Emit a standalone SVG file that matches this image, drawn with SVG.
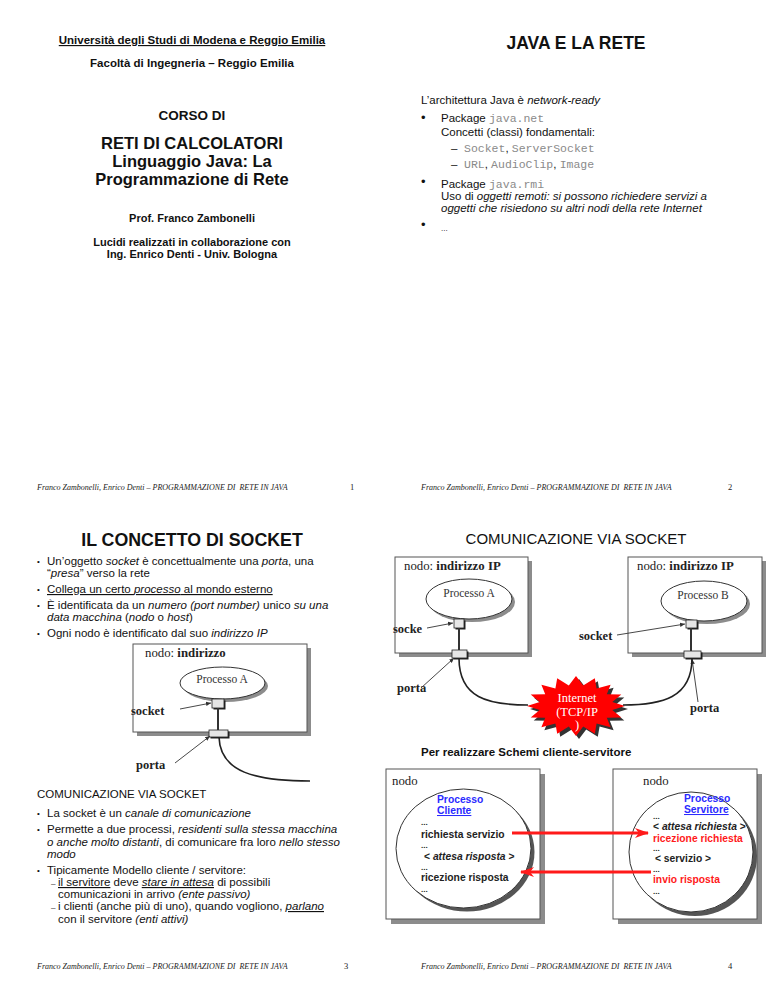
<svg xmlns="http://www.w3.org/2000/svg" width="768" height="994" viewBox="0 0 768 994">
<style>
text{fill:#111}
.s{font-family:"Liberation Sans",Arial,sans-serif}
.sb{font-family:"Liberation Sans",Arial,sans-serif;font-weight:bold}
.r{font-family:"Liberation Serif","Times New Roman",serif}
.m{font-family:"Liberation Mono","Courier New",monospace;fill:#8a8a8a}
.i{font-style:italic}
.b{font-weight:bold}
.u{text-decoration:underline}
.foot{font-family:"Liberation Serif","Times New Roman",serif;font-style:italic;font-size:8px;white-space:pre;fill:#222}
.pg{font-family:"Liberation Serif","Times New Roman",serif;font-size:8.5px;fill:#222}
.box{fill:#fff;stroke:#555;stroke-width:1}
.shd{fill:#8c8c8c}
.ell{fill:#fff;stroke:#333;stroke-width:1}
.sq{fill:#e6e6e6;stroke:#222;stroke-width:0.8}
.stem{stroke:#333;stroke-width:2;fill:none}
.ptr{stroke:#333;stroke-width:0.9;fill:none;marker-end:url(#ah)}
.wire{stroke:#222;stroke-width:1.6;fill:none}
.lbl{font-family:"Liberation Serif","Times New Roman",serif;font-weight:bold;font-size:12.5px;fill:#222}
.nd{font-family:"Liberation Serif","Times New Roman",serif;font-size:12.8px;fill:#222}
.pr{font-family:"Liberation Serif","Times New Roman",serif;font-size:11.5px;fill:#333}
.t4{font-family:"Liberation Sans",Arial,sans-serif;font-weight:bold;font-size:10.3px;fill:#222}
.dots{font-family:"Liberation Sans",Arial,sans-serif;font-weight:bold;font-size:8px;fill:#222}
.blue{fill:#2a2aff}
.arr{stroke:#ff1a1a;stroke-width:3;fill:none}
</style>
<defs>
<marker id="ah" markerWidth="6" markerHeight="6" refX="5" refY="3" orient="auto" markerUnits="userSpaceOnUse">
<path d="M0,0.8 L5,3 L0,5.2 z" fill="#333"/>
</marker>
<marker id="rah" markerWidth="14" markerHeight="10" refX="13" refY="5" orient="auto" markerUnits="userSpaceOnUse">
<path d="M0,0 L14,5 L0,10 L4,5 z" fill="#ff1a1a"/>
</marker>
<polygon id="star" points="625,706 612.3,710.1 621.3,717.5 606.8,717.7 610.6,727.2 596.6,723.5 594.8,733.7 583.2,726.6 576,736 568.8,726.6 557.2,733.7 555.4,723.5 541.4,727.2 545.2,717.7 530.7,717.5 539.7,710.1 527,706 539.7,701.9 530.7,694.5 545.2,694.3 541.4,684.8 555.4,688.5 557.2,678.3 568.8,685.4 576,676 583.2,685.4 594.8,678.3 596.6,688.5 610.6,684.8 606.8,694.3 621.3,694.5 612.3,701.9"/>
</defs>
<rect width="768" height="994" fill="#fff"/>

<!-- Slide 1 -->
<g id="slide1">
<text class="sb u" x="192" y="44" font-size="11.5" text-anchor="middle">Università degli Studi di Modena e Reggio Emilia</text>
<text class="sb" x="192" y="67" font-size="11.5" text-anchor="middle">Facoltà di Ingegneria – Reggio Emilia</text>
<text class="sb" x="192" y="120" font-size="13.5" text-anchor="middle">CORSO DI</text>
<text class="sb" x="192" y="149" font-size="16.5" text-anchor="middle">RETI DI CALCOLATORI</text>
<text class="sb" x="192" y="167" font-size="16.5" text-anchor="middle">Linguaggio Java: La</text>
<text class="sb" x="192" y="185" font-size="16.5" text-anchor="middle">Programmazione di Rete</text>
<text class="sb" x="192" y="222" font-size="11" text-anchor="middle">Prof. Franco Zambonelli</text>
<text class="sb" x="192" y="246" font-size="11" text-anchor="middle">Lucidi realizzati in collaborazione con</text>
<text class="sb" x="192" y="258" font-size="11" text-anchor="middle">Ing. Enrico Denti - Univ. Bologna</text>
<text class="foot" x="37" y="490">Franco Zambonelli, Enrico Denti – PROGRAMMAZIONE DI  RETE IN JAVA</text>
<text class="pg" x="350" y="490">1</text>
</g>

<!-- Slide 2 -->
<g id="slide2">
<text class="sb" x="576" y="49" font-size="17.5" text-anchor="middle">JAVA E LA RETE</text>
<text class="s" x="421" y="104" font-size="11.5">L’architettura Java è <tspan class="i">network-ready</tspan></text>
<text class="s" x="421" y="122" font-size="13">•</text>
<text class="s" x="441" y="122" font-size="11.5">Package <tspan class="m">java.net</tspan></text>
<text class="s" x="441" y="136" font-size="11.5">Concetti (classi) fondamentali:</text>
<text class="s" x="451" y="152" font-size="11.5" fill="#333">–</text>
<text class="s" x="464" y="152" font-size="11.5"><tspan class="m">Socket</tspan>, <tspan class="m">ServerSocket</tspan></text>
<text class="s" x="451" y="168" font-size="11.5" fill="#333">–</text>
<text class="s" x="464" y="168" font-size="11.5"><tspan class="m">URL</tspan>, <tspan class="m">AudioClip</tspan>, <tspan class="m">Image</tspan></text>
<text class="s" x="421" y="186" font-size="13">•</text>
<text class="s" x="441" y="188" font-size="11.5">Package <tspan class="m">java.rmi</tspan></text>
<text class="s" x="441" y="200" font-size="11.5">Uso di <tspan class="i">oggetti remoti: si possono richiedere servizi a</tspan></text>
<text class="s i" x="441" y="212" font-size="11.5">oggetti che risiedono su altri nodi della rete Internet</text>
<text class="s" x="421" y="229" font-size="13">•</text>
<text class="s" x="441" y="231" font-size="8">...</text>
<text class="foot" x="421" y="490">Franco Zambonelli, Enrico Denti – PROGRAMMAZIONE DI  RETE IN JAVA</text>
<text class="pg" x="728" y="490">2</text>
</g>

<!-- Slide 3 -->
<g id="slide3">
<text class="sb" x="192" y="546" font-size="17.8" text-anchor="middle">IL CONCETTO DI SOCKET</text>
<g class="s" font-size="11.5">
<text x="37" y="564" font-size="8">•</text>
<text x="47" y="565">Un’oggetto <tspan class="i">socket</tspan> è concettualmente una <tspan class="i">porta</tspan>, una</text>
<text x="47" y="577">“<tspan class="i">presa</tspan>” verso la rete</text>
<text x="37" y="592" font-size="8">•</text>
<text x="47" y="593" class="u">Collega un certo <tspan class="i">processo</tspan> al mondo esterno</text>
<text x="37" y="608" font-size="8">•</text>
<text x="47" y="609">È identificata da un <tspan class="i">numero (port number)</tspan> unico <tspan class="i">su una</tspan></text>
<text x="47" y="621"><tspan class="i">data macchina</tspan> (<tspan class="i">nodo</tspan> o <tspan class="i">host</tspan>)</text>
<text x="37" y="636" font-size="8">•</text>
<text x="47" y="637">Ogni nodo è identificato dal suo <tspan class="i">indirizzo IP</tspan></text>
</g>
<g class="s" font-size="11.5">
<text x="37" y="798">COMUNICAZIONE VIA SOCKET</text>
<text x="37" y="816" font-size="8">•</text>
<text x="47" y="817">La socket è un <tspan class="i">canale di comunicazione</tspan></text>
<text x="37" y="832" font-size="8">•</text>
<text x="47" y="833">Permette a due processi, <tspan class="i">residenti sulla stessa macchina</tspan></text>
<text x="47" y="846"><tspan class="i">o anche molto distanti</tspan>, di comunicare fra loro <tspan class="i">nello stesso</tspan></text>
<text x="47" y="858" class="i">modo</text>
<text x="37" y="873" font-size="8">•</text>
<text x="47" y="874">Tipicamente Modello cliente / servitore:</text>
<text x="51" y="886" font-size="8">–</text>
<text x="58" y="886"><tspan class="u">il servitore</tspan> deve <tspan class="i u">stare in attesa</tspan> di possibili</text>
<text x="58" y="898">comunicazioni in arrivo <tspan class="i">(ente passivo)</tspan></text>
<text x="51" y="910" font-size="8">–</text>
<text x="58" y="910">i clienti (anche più di uno), quando vogliono, <tspan class="i u">parlano</tspan></text>
<text x="58" y="923">con il servitore <tspan class="i">(enti attivi)</tspan></text>
</g>
<text class="foot" x="37" y="969">Franco Zambonelli, Enrico Denti – PROGRAMMAZIONE DI  RETE IN JAVA</text>
<text class="pg" x="344" y="969">3</text>
</g>

<g id="node-s3">
<rect class="shd" x="137" y="648" width="174" height="88"/>
<rect class="box" x="133" y="644" width="174" height="88"/>
<text class="nd" x="145" y="657">nodo: <tspan font-weight="bold">indirizzo</tspan></text>
<ellipse class="shd" cx="225.5" cy="686" rx="42.5" ry="16"/>
<ellipse class="ell" cx="222.5" cy="683" rx="42.5" ry="16"/>
<text class="pr" x="222" y="683" text-anchor="middle">Processo A</text>
<rect x="213.5" y="700.5" width="12" height="9" fill="#222"/>
<rect class="sq" x="212" y="699" width="12" height="9"/>
<rect x="210.5" y="731.5" width="19" height="7" fill="#222"/>
<rect class="sq" x="209" y="730" width="19" height="7"/>
<text class="lbl" x="131" y="715">socket</text>
<text class="lbl" x="136" y="769">porta</text>
</g>

<!-- Slide 4 -->
<g id="slide4">
<text class="s" x="576" y="544" font-size="15" text-anchor="middle">COMUNICAZIONE VIA SOCKET</text>
<text class="sb" x="421" y="756" font-size="11.5">Per realizzare Schemi cliente-servitore</text>
<text class="foot" x="421" y="969">Franco Zambonelli, Enrico Denti – PROGRAMMAZIONE DI  RETE IN JAVA</text>
<text class="pg" x="728" y="969">4</text>
</g>

<g id="node-A">
<rect class="shd" x="399" y="561" width="133" height="96"/>
<rect class="box" x="395" y="557" width="133" height="96"/>
<text class="nd" x="404" y="570">nodo: <tspan font-weight="bold">indirizzo IP</tspan></text>
<ellipse class="shd" cx="472" cy="602" rx="43" ry="20"/>
<ellipse class="ell" cx="469" cy="599" rx="43" ry="20"/>
<text class="pr" x="469" y="597" text-anchor="middle">Processo A</text>
<rect x="455.5" y="620.5" width="10" height="9" fill="#222"/>
<rect class="sq" x="454" y="619" width="10" height="9"/>
<rect x="453.5" y="651.5" width="15" height="8" fill="#222"/>
<rect class="sq" x="452" y="650" width="15" height="8"/>
<text class="lbl" x="393" y="633">socke</text>
<text class="lbl" x="397" y="692">porta</text>
</g>

<g id="node-B">
<rect class="shd" x="632" y="561" width="134" height="96"/>
<rect class="box" x="628" y="557" width="134" height="96"/>
<text class="nd" x="637" y="570">nodo: <tspan font-weight="bold">indirizzo IP</tspan></text>
<ellipse class="shd" cx="707" cy="604" rx="43" ry="20"/>
<ellipse class="ell" cx="704" cy="601" rx="43" ry="20"/>
<text class="pr" x="703" y="599" text-anchor="middle">Processo B</text>
<rect x="687.5" y="621.5" width="11" height="8" fill="#222"/>
<rect class="sq" x="686" y="620" width="11" height="8"/>
<rect x="685.5" y="652.5" width="17" height="7" fill="#222"/>
<rect class="sq" x="684" y="651" width="17" height="7"/>
<text class="lbl" x="579" y="640">socket</text>
<text class="lbl" x="690" y="712">porta</text>
</g>

<g id="internet">
<use href="#star" transform="translate(3,3)" fill="#333"/>
<use href="#star" fill="#ff0000"/>
<text class="r" x="577" y="702" font-size="12.5" text-anchor="middle" style="fill:#fff">Internet</text>
<text class="r" x="577" y="716" font-size="12.5" text-anchor="middle" style="fill:#fff">(TCP/IP</text>
<text class="r" x="577" y="729" font-size="12.5" text-anchor="middle" style="fill:#fff">)</text>
</g>

<g id="node-cliente">
<rect class="shd" x="391" y="774" width="154" height="150"/>
<rect class="box" x="386" y="769" width="154" height="150"/>
<text class="nd" x="392" y="785" font-size="12.5">nodo</text>
<ellipse cx="467" cy="852" rx="67.5" ry="59.5" fill="#555"/>
<ellipse class="ell" cx="463.5" cy="848.5" rx="67.5" ry="59.5"/>
<text class="t4 blue" x="437" y="803">Processo</text>
<text class="t4 blue u" x="437" y="814">Cliente</text>
<text class="dots" x="421" y="825">...</text>
<text class="t4" x="421" y="838">richiesta servizio</text>
<text class="dots" x="421" y="848">...</text>
<text class="t4" x="424" y="860">&lt; <tspan class="i">attesa risposta</tspan> &gt;</text>
<text class="dots" x="421" y="870">...</text>
<text class="t4" x="421" y="881">ricezione risposta</text>
<text class="dots" x="421" y="892">...</text>
</g>

<g id="node-servitore">
<rect class="shd" x="618" y="774" width="144" height="150"/>
<rect class="box" x="613" y="769" width="144" height="150"/>
<text class="nd" x="643" y="785" font-size="12.5">nodo</text>
<ellipse cx="695" cy="856" rx="62" ry="60" fill="#555"/>
<ellipse class="ell" cx="691" cy="852" rx="62" ry="60"/>
<text class="t4 blue" x="684" y="802">Processo</text>
<text class="t4 blue u" x="684" y="813">Servitore</text>
<text class="dots" x="653" y="818.5">...</text>
<text class="t4" x="653" y="830.2">&lt; <tspan class="i">attesa richiesta</tspan> &gt;</text>
<text class="t4" x="653" y="842" style="fill:#ff1a1a">ricezione richiesta</text>
<text class="dots" x="653" y="851">...</text>
<text class="t4" x="655" y="862">&lt; servizio &gt;</text>
<text class="dots" x="653" y="872">...</text>
<text class="t4" x="653" y="883" style="fill:#ff1a1a">invio risposta</text>
<text class="dots" x="653" y="894">...</text>
</g>

<g id="connectors">
<line class="stem" x1="218" y1="708" x2="218" y2="730"/>
<line class="ptr" x1="180" y1="709" x2="211" y2="703"/>
<line class="ptr" x1="175" y1="763" x2="210" y2="736"/>
<path class="wire" d="M219,737 C220,772 255,781 310,781"/>
<line class="stem" x1="459" y1="628" x2="459" y2="650"/>
<line class="ptr" x1="427" y1="628" x2="453" y2="623"/>
<line class="ptr" x1="421" y1="688" x2="454" y2="658"/>
<path class="wire" d="M459,658 C459,698 488,705 528,705"/>
<line class="stem" x1="691" y1="628" x2="691" y2="651"/>
<line class="ptr" x1="617" y1="635" x2="685" y2="624"/>
<line class="ptr" x1="698" y1="702" x2="692" y2="659"/>
<path class="wire" d="M692,658 C692,698 662,705 623,705"/>
<line class="arr" x1="512" y1="833" x2="648" y2="833" marker-end="url(#rah)"/>
<line class="arr" x1="651" y1="872" x2="521" y2="872" marker-end="url(#rah)"/>
</g>
</svg>
